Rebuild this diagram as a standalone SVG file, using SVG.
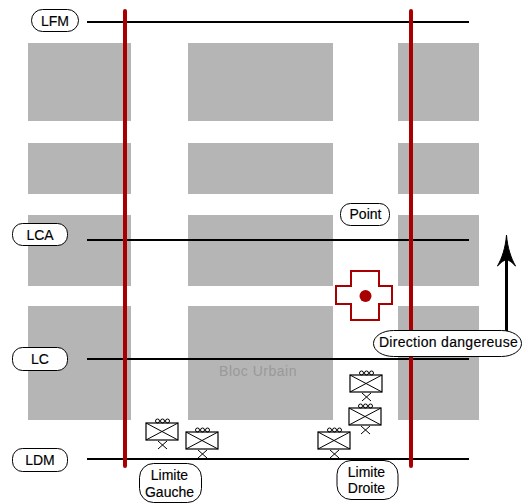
<svg xmlns="http://www.w3.org/2000/svg" width="522" height="503" viewBox="0 0 522 503">
<defs>
<style>
.b{fill:#b5b5b5}
.l{stroke:#000;stroke-width:2;fill:none}
.r{stroke:#a80000;stroke-width:4;fill:none;stroke-linecap:round}
.p{fill:#fff;stroke:#000;stroke-width:1}
text{font-family:"Liberation Sans",Arial,sans-serif;font-size:14px;fill:#000;text-anchor:middle;stroke:#000;stroke-width:.15px}
.u path,.u circle{fill:none;stroke:#000;stroke-width:1}
.u rect{stroke:#000;stroke-width:1.2;fill:#fff}
</style>
<g id="unit">
<g class="u">
<rect x="0" y="0" width="32" height="17"/>
<path d="M0 0L32 17M32 0L0 17M12 18L21 26M21 18L12 26"/>
<circle cx="11.500" cy="-2" r="2"/><circle cx="16.500" cy="-2" r="2"/><circle cx="21.500" cy="-2" r="2"/>
</g>
</g>
</defs>
<rect width="522" height="503" fill="#fff"/>
<g id="blocks">
<rect class="b" x="28" y="43" width="103" height="78"/>
<rect class="b" x="188" y="43" width="145" height="78"/>
<rect class="b" x="398" y="43" width="81" height="78"/>
<rect class="b" x="28" y="143" width="103" height="51"/>
<rect class="b" x="188" y="143" width="145" height="51"/>
<rect class="b" x="398" y="143" width="81" height="51"/>
<rect class="b" x="28" y="215" width="103" height="71"/>
<rect class="b" x="188" y="215" width="145" height="71"/>
<rect class="b" x="398" y="215" width="81" height="71"/>
<rect class="b" x="28" y="306" width="103" height="114"/>
<rect class="b" x="188" y="306" width="145" height="114"/>
<rect class="b" x="398" y="306" width="81" height="114"/>
</g>
<text id="bloc-urbain" x="258" y="376" style="fill:#999;stroke:none;letter-spacing:.5px">Bloc Urbain</text>
<g id="connectors">
<path class="l" d="M87 22H469M87 240H469M87 359H469M87 459H469"/>
<path class="r" d="M125 11V466M411 11V466"/>
<path d="M506.500 331V255" stroke="#000" stroke-width="3" fill="none"/>
<path d="M506.500 235C507.500 248 511 258 515.500 266C511.500 262 509 260 506.500 260C504 260 501.500 262 497.500 266C502 258 505.500 248 506.500 235Z" fill="#000" stroke="#000"/>
</g>
<g id="point-marker">
<path d="M351 271H379V286H392V304H379V320H351V304H336V286H351Z" fill="#fff" stroke="#a80000" stroke-width="2"/>
<circle cx="365.500" cy="296" r="6" fill="#a80000"/>
</g>
<g id="units">
<use href="#unit" x="146" y="423"/>
<use href="#unit" x="186" y="432"/>
<use href="#unit" x="350" y="375"/>
<use href="#unit" x="349" y="408"/>
<use href="#unit" x="318" y="432"/>
</g>
<g id="lfm"><rect class="p" x="31.500" y="9.500" width="47" height="22" rx="11"/><text x="55" y="26">LFM</text></g>
<g id="lca"><rect class="p" x="12.500" y="223.500" width="55" height="22" rx="10"/><text x="40" y="240">LCA</text></g>
<g id="lc"><rect class="p" x="12.500" y="347.500" width="55" height="23" rx="10"/><text x="40" y="364">LC</text></g>
<g id="ldm"><rect class="p" x="12.500" y="448.500" width="55" height="23" rx="10"/><text x="40" y="465">LDM</text></g>
<g id="point"><rect class="p" x="340.500" y="203.500" width="49" height="22" rx="10"/><text x="365.500" y="219">Point</text></g>
<g id="direction"><rect class="p" x="373.500" y="330.500" width="148" height="26" rx="20" ry="13"/><text x="448.500" y="347" style="letter-spacing:.3px">Direction dangereuse</text></g>
<g id="limite-gauche"><rect class="p" x="139.500" y="463.500" width="62" height="39" rx="14"/><text x="169.500" y="480">Limite</text><text x="169.500" y="497">Gauche</text></g>
<g id="limite-droite"><rect class="p" x="337" y="460.500" width="61" height="39" rx="14"/><text x="366.500" y="477">Limite</text><text x="366.500" y="493">Droite</text></g>
</svg>
